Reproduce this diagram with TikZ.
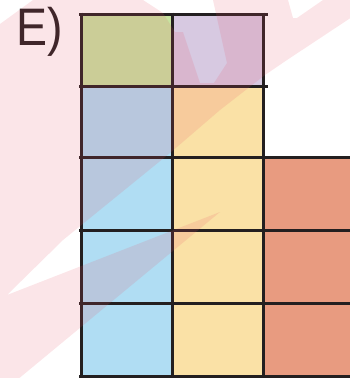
\documentclass[tikz,border=0pt]{standalone}
\usepackage{fontspec}
\setmainfont{Liberation Sans}
\definecolor{cgreen}{RGB}{199,227,160}
\definecolor{clav}{RGB}{215,201,225}
\definecolor{cblue}{RGB}{176,221,243}
\definecolor{cyellow}{RGB}{250,225,166}
\definecolor{csalmon}{RGB}{232,155,128}
\definecolor{cline}{RGB}{35,31,32}
\definecolor{wmark}{RGB}{230,80,100}
\tikzset{
  gridline/.style={draw=cline, line width=3bp},
  wmfill/.style={fill=wmark, fill opacity=0.15, draw=none},
  lbl/.style={inner sep=0pt, anchor=base west, text=cline, font=\fontsize{53}{53}\selectfont}
}
\begin{document}
\begin{tikzpicture}[x=1bp,y=-1bp]
\useasboundingbox (0,0) rectangle (350,378);
% cells
\fill[cgreen] (81,14) rectangle (172,86);
\fill[clav] (172,14) rectangle (263,86);
\fill[cblue] (81,86) rectangle (172,376);
\fill[cyellow] (172,86) rectangle (263,376);
\fill[csalmon] (263,157) rectangle (352,376);
% grid lines
\draw[gridline] (79,14) -- (268,14);
\draw[gridline] (79,86) -- (268,86);
\foreach \yy in {157,230,303,376} \draw[gridline] (79,\yy) -- (352,\yy);
\draw[gridline] (81,12.5) -- (81,380);
\draw[gridline] (172,12.5) -- (172,380);
\draw[gridline] (263,12.5) -- (263,380);
% label
\node[lbl] (lab) at (16.3,45) {\scalebox{0.88}[1]{E)}};
% watermark
\path[wmfill] (33,0) -- (143,0) -- (163,13) -- (175,32) -- (183,32) -- (200,83)
  -- (214,83) -- (227,63) -- (213,0) -- (288,0) -- (293,18) -- (297,18) -- (323,0)
  -- (352,0) -- (352,17) -- (287,60) -- (265,75) -- (220,110) -- (170,153)
  -- (63,240) -- (7,295) -- (220,212) -- (17,380) -- (0,380) -- (0,24) -- cycle;
\end{tikzpicture}
\end{document}
